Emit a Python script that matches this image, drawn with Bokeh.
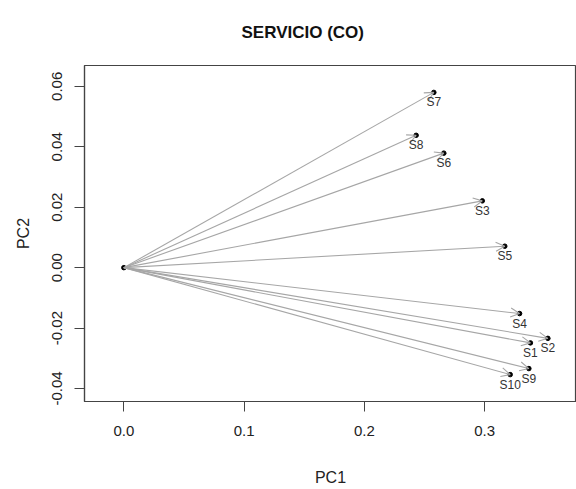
from bokeh.plotting import figure
from bokeh.models import (ColumnDataSource, Arrow, OpenHead, LabelSet,
                          FixedTicker, NumeralTickFormatter, Range1d)
from bokeh.core.properties import value
from bokeh.embed import file_html
from bokeh.resources import INLINE

# Loadings of each service item on the first two principal components
labels = ["S1", "S2", "S3", "S4", "S5", "S6", "S7", "S8", "S9", "S10"]
pc1 = [0.338, 0.3525, 0.298, 0.329, 0.3167, 0.266, 0.2577, 0.243, 0.3367, 0.3212]
pc2 = [-0.0249, -0.0234, 0.0221, -0.0152, 0.0071, 0.0379, 0.058, 0.0438, -0.0334, -0.0354]

x_ticks = [0.0, 0.1, 0.2, 0.3]
y_ticks = [-0.04, -0.02, 0.0, 0.02, 0.04, 0.06]

FONT = "Liberation Sans"
BOX = "#444444"
X_LO, X_HI = -0.0327, 0.3763
Y_LO, Y_HI = -0.0443, 0.0669

src = ColumnDataSource(dict(x0=[0.0] * len(pc1), y0=[0.0] * len(pc1),
                            x=pc1, y=pc2, name=labels))

p = figure(width=576, height=489, output_backend="svg", toolbar_location=None,
           x_range=Range1d(X_LO, X_HI), y_range=Range1d(Y_LO, Y_HI),
           min_border_left=84, min_border_right=0, min_border_top=62,
           min_border_bottom=88, x_axis_label="PC1", y_axis_label="PC2")

p.title.text = "SERVICIO (CO)"
p.title.align = "left"
p.title.offset = 157
p.title.vertical_align = "top"
p.title.text_font = FONT
p.title.text_font_size = "17px"
p.title.text_font_style = "bold"
p.title.text_color = "#111111"
p.title.standoff = 44

p.grid.visible = False
p.outline_line_color = BOX
p.outline_line_width = 1.2
p.outline_line_alpha = 1.0
p.background_fill_color = "white"
p.border_fill_color = "white"

for ax in (p.xaxis[0], p.yaxis[0]):
    ax.axis_line_color = BOX
    ax.axis_line_width = 1.2
    ax.major_tick_line_color = BOX
    ax.major_tick_out = 10
    ax.major_tick_in = 0
    ax.minor_tick_line_color = None
    ax.major_label_text_font = FONT
    ax.major_label_text_font_size = "15px"
    ax.major_label_text_color = "#222222"
    ax.axis_label_text_font = FONT
    ax.axis_label_text_font_size = "16px"
    ax.axis_label_text_font_style = "normal"
    ax.axis_label_text_color = "#222222"

p.xaxis[0].ticker = FixedTicker(ticks=x_ticks)
p.xaxis[0].formatter = NumeralTickFormatter(format="0.0")
p.xaxis[0].major_label_standoff = 14
p.xaxis[0].axis_label_standoff = 30

p.yaxis[0].ticker = FixedTicker(ticks=y_ticks)
p.yaxis[0].formatter = NumeralTickFormatter(format="0.00")
p.yaxis[0].major_label_orientation = "vertical"
p.yaxis[0].major_label_standoff = 12
p.yaxis[0].axis_label_standoff = 18

# loading vectors from the origin
p.add_layout(Arrow(x_start="x0", y_start="y0", x_end="x", y_end="y", source=src,
                   line_color="#a6a6a6", line_width=1.1,
                   end=OpenHead(size=9, line_color="#a6a6a6", line_width=1.1)))

p.scatter(x="x", y="y", source=src, size=4.5, color="black")
p.scatter(x=[0.0], y=[0.0], size=4.5, color="black")

p.add_layout(LabelSet(x="x", y="y", text="name", source=src, y_offset=-3,
                      text_align="center", text_baseline="top",
                      text_font=value(FONT), text_font_size=value("12px"),
                      text_color="#333333"))

open("out.html", "w").write(file_html(p, INLINE))
